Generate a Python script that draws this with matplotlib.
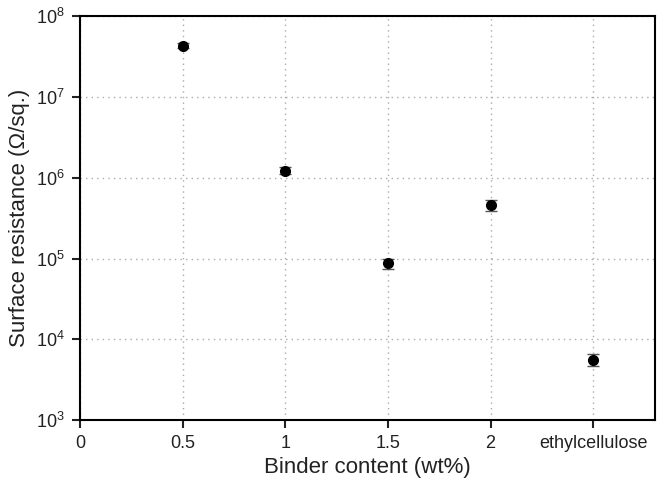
import matplotlib
matplotlib.use("Agg")
import matplotlib.pyplot as plt
import numpy as np

plt.rcParams['font.family'] = ['Liberation Sans', 'DejaVu Sans']

x_pos = [0.5, 1.0, 1.5, 2.0, 2.5]
resistance = [4.3e7, 1.22e6, 8.7e4, 4.6e5, 5.6e3]
err = [3e6, 1.2e5, 1.2e4, 7e4, 9e2]
tick_pos = [0, 0.5, 1, 1.5, 2, 2.5]
tick_labels = ['0', '0.5', '1', '1.5', '2', 'ethylcellulose']

fig = plt.figure(figsize=(6.62, 4.88), dpi=100)
ax = fig.add_axes([0.121, 0.139, 0.868, 0.828])
ax.errorbar(x_pos, resistance, yerr=err, fmt='o', color='black', ms=7,
            ecolor='#555555', elinewidth=1, capsize=4, capthick=1, zorder=3)
ax.set_yscale('log')
ax.set_xlim(0, 2.8)
ax.set_ylim(1e3, 1e8)
ax.set_xticks(tick_pos)
ax.set_xticklabels(tick_labels)
ax.set_yticks([1e3, 1e4, 1e5, 1e6, 1e7, 1e8])
ax.yaxis.set_minor_locator(matplotlib.ticker.NullLocator())
ax.tick_params(axis='both', direction='out', length=6, width=1.5, labelsize=13,
               colors='#222222', pad=5)
ax.grid(True, which='major', linestyle=(0, (1, 3)), color='#aaaaaa', linewidth=1)
for s in ax.spines.values():
    s.set_linewidth(1.5)
ax.set_xlabel('Binder content (wt%)', fontsize=16, labelpad=3, color='#222222')
ax.set_ylabel('Surface resistance (Ω/sq.)', fontsize=16, labelpad=4, color='#222222')
fig.savefig('out.png', dpi=100)
